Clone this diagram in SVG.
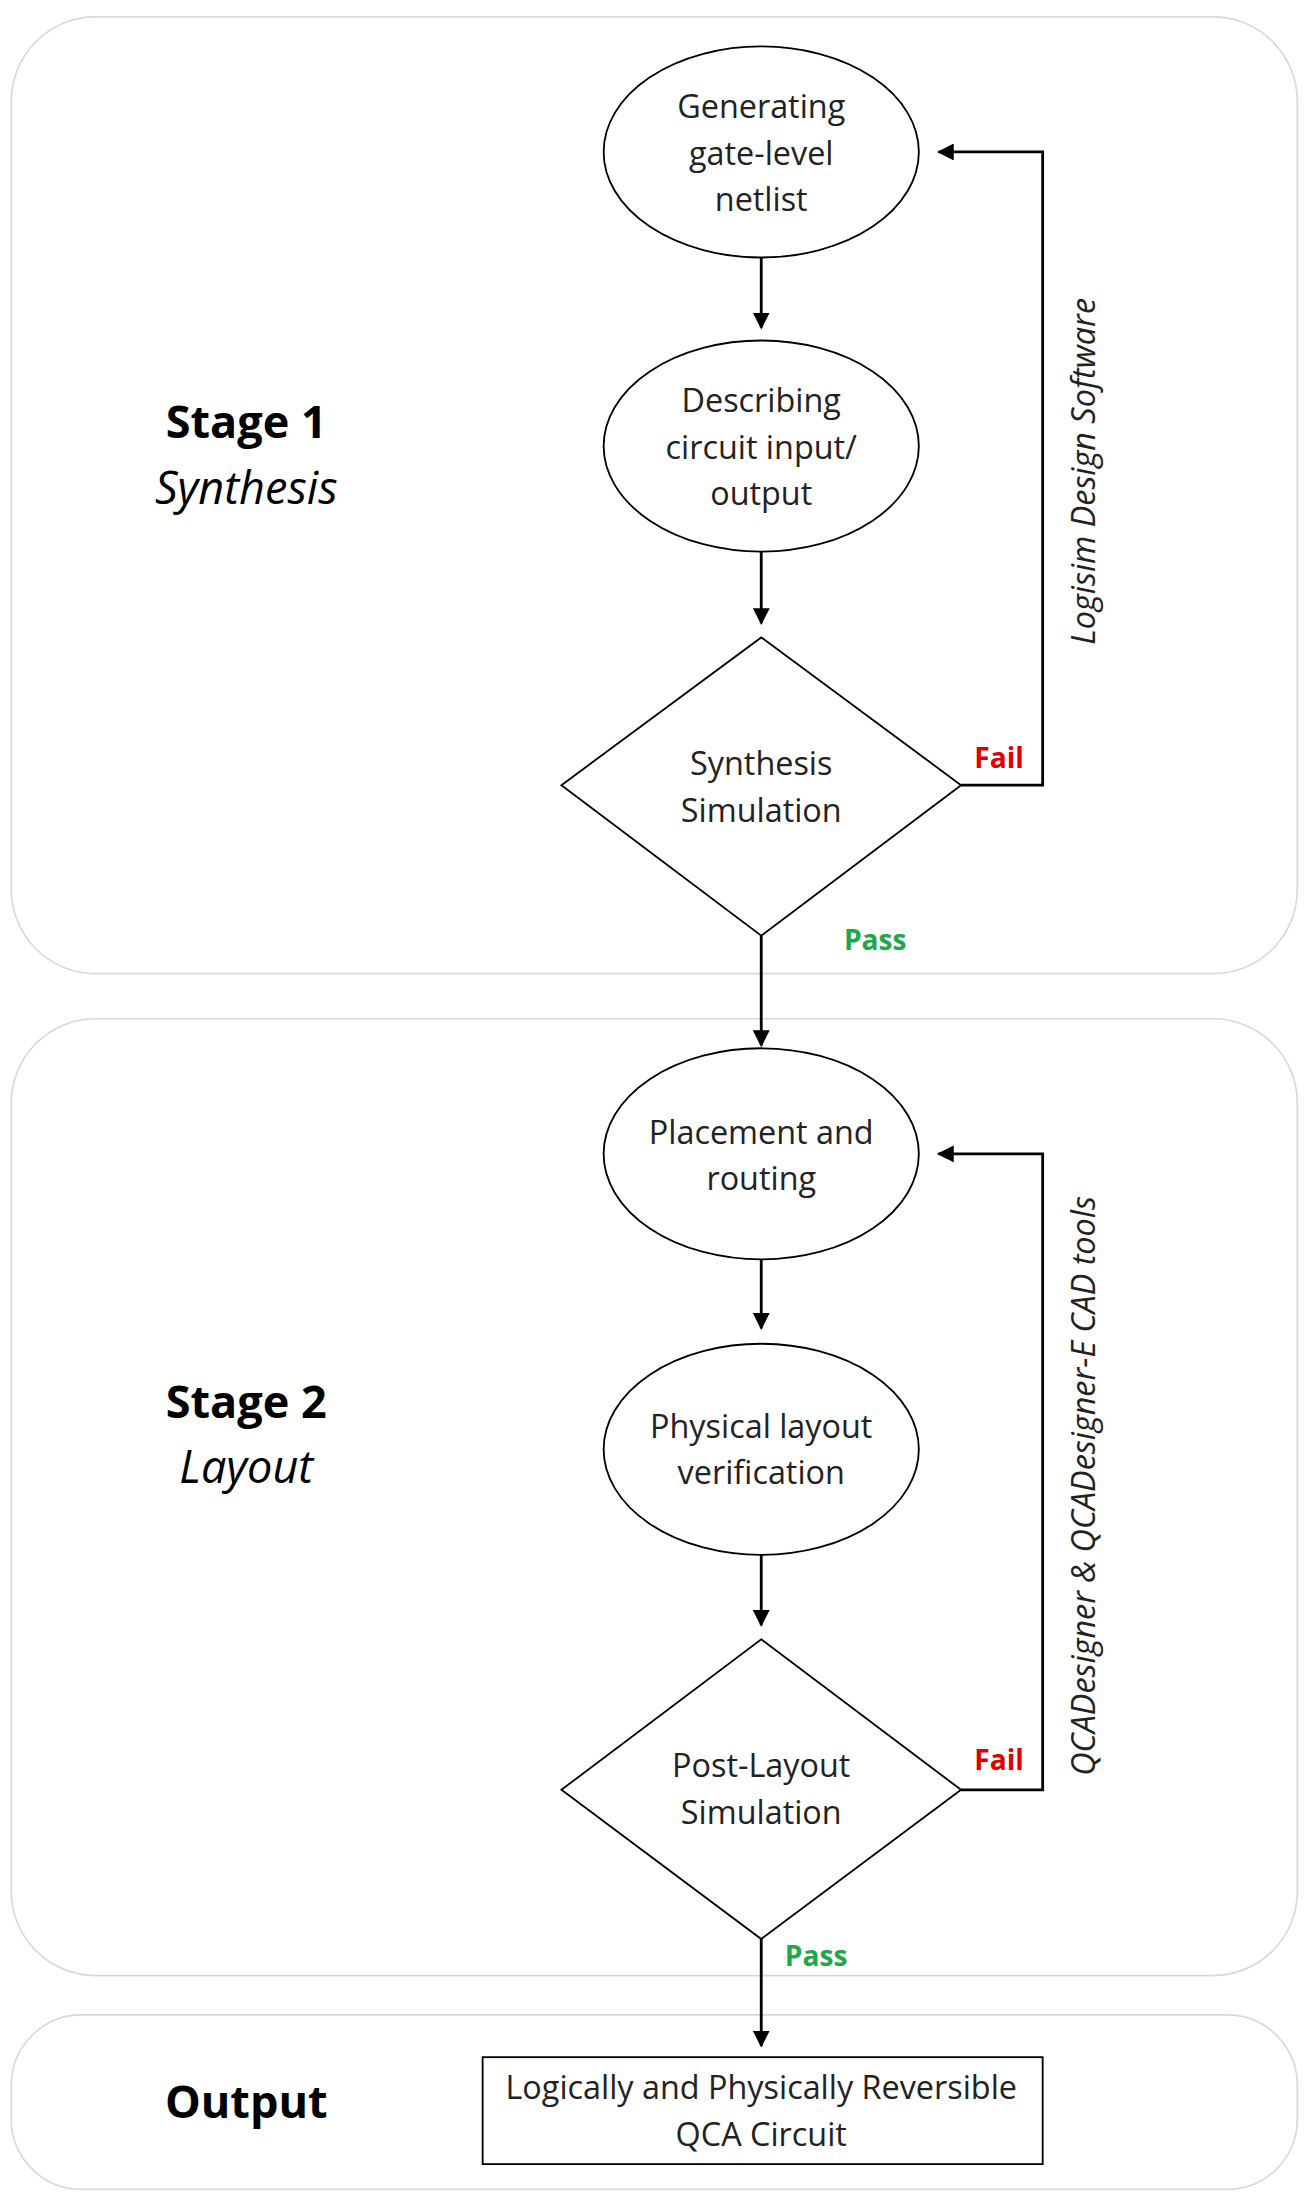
<svg xmlns="http://www.w3.org/2000/svg" width="1310" height="2208" viewBox="0 0 1310 2208">
<defs>
<marker id="ah" viewBox="0 0 10 10" refX="9" refY="5" markerWidth="6" markerHeight="6" orient="auto"><path d="M0,0 L10,5 L0,10 z" fill="#000"/></marker>
<style>
.panel{fill:#fff;stroke:#d9d9d9;stroke-width:1.2}
.shape{fill:#fff;stroke:#000;stroke-width:1.3}
.t{font-family:"Open Sans","Liberation Sans",sans-serif;font-size:23px;fill:#222;text-anchor:middle}
.st{font-family:"Open Sans","Liberation Sans",sans-serif;font-size:32px;fill:#000;text-anchor:middle}
.lab{font-family:"Open Sans","Liberation Sans",sans-serif;font-size:20px;font-weight:bold}
.side{font-family:"Open Sans","Liberation Sans",sans-serif;font-size:23px;font-style:italic;fill:#222;text-anchor:middle}
.c{fill:none;stroke:#000;stroke-width:2}
</style>
</defs>
<rect width="1310" height="2208" fill="#fff"/>
<g transform="scale(1.4071)">
<g id="panels">
<rect class="panel" x="8" y="12" width="914" height="680" rx="60"/>
<rect class="panel" x="8" y="724" width="914" height="680" rx="60"/>
<rect class="panel" x="8" y="1432" width="914" height="124" rx="50"/>
</g>
<g id="stage-labels">
<text class="st" x="175" y="311" font-weight="bold">Stage 1</text>
<text class="st" x="175" y="358" font-style="italic">Synthesis</text>
<text class="st" x="175" y="1008" font-weight="bold">Stage 2</text>
<text class="st" x="175" y="1054" font-style="italic">Layout</text>
<text class="st" x="175" y="1505" font-weight="bold">Output</text>
</g>
<g id="connectors">
<line class="c" x1="541" y1="183" x2="541" y2="233" marker-end="url(#ah)"/>
<line class="c" x1="541" y1="392" x2="541" y2="443" marker-end="url(#ah)"/>
<line class="c" x1="541" y1="665" x2="541" y2="743" marker-end="url(#ah)"/>
<polyline class="c" points="683,558 741,558 741,108 667,108" marker-end="url(#ah)"/>
<line class="c" x1="541" y1="895" x2="541" y2="944" marker-end="url(#ah)"/>
<line class="c" x1="541" y1="1105" x2="541" y2="1155" marker-end="url(#ah)"/>
<polyline class="c" points="683,1272 741,1272 741,820 667,820" marker-end="url(#ah)"/>
<line class="c" x1="541" y1="1378" x2="541" y2="1454" marker-end="url(#ah)"/>
<text class="lab" x="710" y="546" fill="#e00000" text-anchor="middle">Fail</text>
<text class="lab" x="622" y="675" fill="#1fa84a" text-anchor="middle">Pass</text>
<text class="lab" x="710" y="1258" fill="#e00000" text-anchor="middle">Fail</text>
<text class="lab" x="580" y="1397" fill="#1fa84a" text-anchor="middle">Pass</text>
<text class="side" transform="translate(778,335) rotate(-90)">Logisim Design Software</text>
<text class="side" transform="translate(778,1056) rotate(-90)">QCADesigner &amp; QCADesigner-E CAD tools</text>
</g>
<g id="n1"><ellipse class="shape" cx="541" cy="108" rx="112" ry="75"/>
<text class="t" x="541" y="84">Generating</text><text class="t" x="541" y="117">gate-level</text><text class="t" x="541" y="150">netlist</text></g>
<g id="n2"><ellipse class="shape" cx="541" cy="317" rx="112" ry="75"/>
<text class="t" x="541" y="293">Describing</text><text class="t" x="541" y="326">circuit input/</text><text class="t" x="541" y="359">output</text></g>
<g id="n3"><polygon class="shape" points="541,453 683,558 541,665 399,558"/>
<text class="t" x="541" y="551">Synthesis</text><text class="t" x="541" y="584">Simulation</text></g>
<g id="n4"><ellipse class="shape" cx="541" cy="820" rx="112" ry="75"/>
<text class="t" x="541" y="813">Placement and</text><text class="t" x="541" y="846">routing</text></g>
<g id="n5"><ellipse class="shape" cx="541" cy="1030" rx="112" ry="75"/>
<text class="t" x="541" y="1022">Physical layout</text><text class="t" x="541" y="1055">verification</text></g>
<g id="n6"><polygon class="shape" points="541,1165 683,1272 541,1378 399,1272"/>
<text class="t" x="541" y="1263">Post-Layout</text><text class="t" x="541" y="1296">Simulation</text></g>
<g id="n7"><rect class="shape" x="343" y="1462" width="398" height="76"/>
<text class="t" x="541" y="1492">Logically and Physically Reversible</text><text class="t" x="541" y="1525">QCA Circuit</text></g>
</g>
</svg>
